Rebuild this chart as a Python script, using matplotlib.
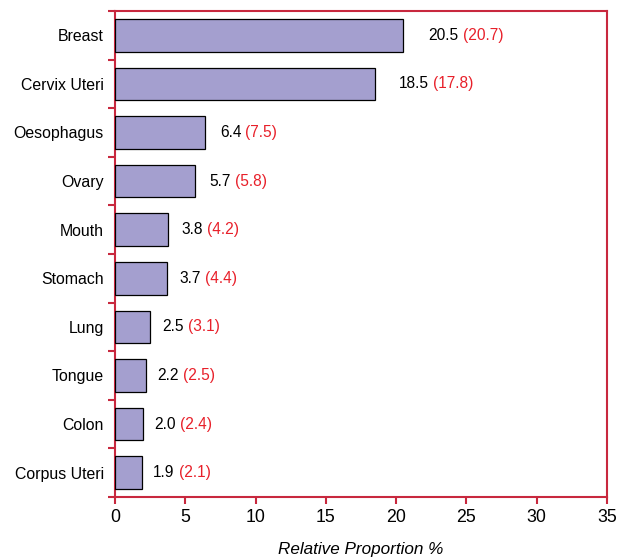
import matplotlib
matplotlib.use("Agg")
import matplotlib.pyplot as plt
import numpy as np
from matplotlib.transforms import offset_copy

categories = ["Breast", "Cervix Uteri", "Oesophagus", "Ovary", "Mouth",
              "Stomach", "Lung", "Tongue", "Colon", "Corpus Uteri"]
values = [20.5, 18.5, 6.4, 5.7, 3.8, 3.7, 2.5, 2.2, 2.0, 1.9]
values_paren = [20.7, 17.8, 7.5, 5.8, 4.2, 4.4, 3.1, 2.5, 2.4, 2.1]
xticks = [0, 5, 10, 15, 20, 25, 30, 35]

plt.rcParams['font.family'] = ['Liberation Sans', 'DejaVu Sans']

frame_col = "#c8283e"
bar_col = "#a49fcf"
red_txt = "#e8202a"

fig = plt.figure(figsize=(6.22, 5.57), dpi=100)
ax = fig.add_axes([115/622, 1 - 497/557, (607-115)/622, (497-11)/557])

n = len(categories)
y = np.arange(n)
ax.barh(y, values, height=0.67, color=bar_col, edgecolor="black", linewidth=0.9, zorder=3)
ax.set_ylim(n - 0.5, -0.5)
ax.set_xlim(0, 35)

# y ticks at category boundaries, labels centered
ax.set_yticks(np.arange(-0.5, n, 1.0))
ax.set_yticklabels([])
ax.set_yticks(y, minor=True)
ax.set_yticklabels(categories, minor=True, fontsize=11.4)
ax.tick_params(axis='y', which='minor', length=0, pad=8)
ax.tick_params(axis='y', which='major', length=5, width=1.5, color=frame_col, direction='out')

ax.set_xticks(xticks)
ax.set_xticklabels([str(t) for t in xticks], fontsize=12.8)
ax.tick_params(axis='x', length=5, width=1.5, color=frame_col, direction='out', pad=4)

for s in ax.spines.values():
    s.set_color(frame_col)
    s.set_linewidth(1.5)

ax.set_xlabel("Relative Proportion %", fontsize=12.3, fontstyle='italic', labelpad=11)

fig.canvas.draw()
for yi, v, p in zip(y, values, values_paren):
    tr = offset_copy(ax.transData, fig=fig, x=v * 0.75 + 10, y=0, units='dots')
    t1 = ax.text(v, yi, f"{v:.1f}", transform=tr, va='center', ha='left', fontsize=11.2, color='black')
    fig.canvas.draw()
    bb = t1.get_window_extent()
    ax.annotate(f"({p:.1f})", xy=(bb.x1 + 4, (bb.y0 + bb.y1) / 2), xycoords='figure pixels',
                va='center', ha='left', fontsize=11.2, color=red_txt)

fig.savefig("out.png", dpi=100)
